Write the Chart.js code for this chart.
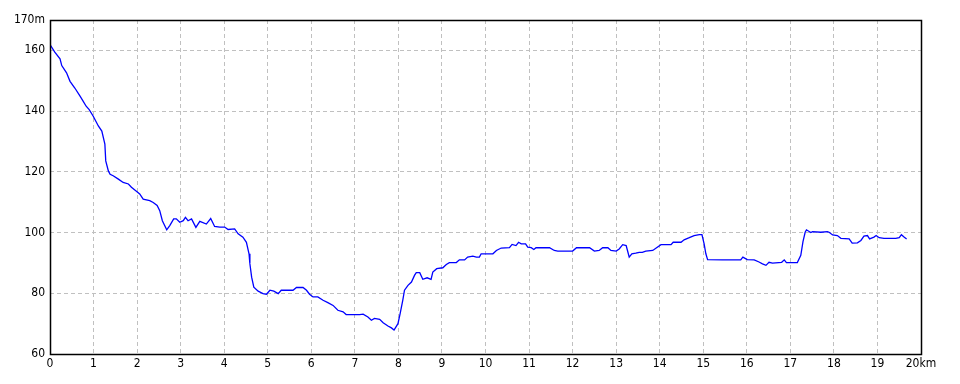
<!DOCTYPE html>
<html>
<head>
<meta charset="utf-8">
<script src="https://cdn.jsdelivr.net/npm/chart.js@4"></script>
<style>
  body { margin: 0; background: #fff; }
  #wrap { width: 960px; height: 384px; }
</style>
</head>
<body>
<div id="wrap"><canvas id="myChart" width="960" height="384"></canvas></div>
<script>
// distance along the route (km) and elevation (m)
const distKm = [
    0, 0.11, 0.23, 0.27, 0.38, 0.46, 0.57, 0.69, 0.76, 0.83, 0.9, 0.99, 1.11, 1.19, 1.26, 1.28, 1.34, 1.38, 1.45, 1.57,
    1.68, 1.8, 1.87, 1.99, 2.06, 2.14, 2.29, 2.37, 2.46, 2.52, 2.58, 2.68, 2.75, 2.84, 2.9, 2.98, 3.06, 3.11, 3.17, 3.25,
    3.35, 3.44, 3.59, 3.69, 3.78, 3.9, 4.01, 4.09, 4.24, 4.32, 4.43, 4.51, 4.57, 4.59, 4.63, 4.68, 4.78, 4.89, 4.97, 5.05,
    5.14, 5.24, 5.31, 5.58, 5.66, 5.81, 5.89, 5.96, 6.04, 6.15, 6.27, 6.38, 6.5, 6.61, 6.73, 6.8, 7.11, 7.19, 7.3, 7.38,
    7.45, 7.57, 7.65, 7.76, 7.84, 7.9, 7.99, 8.04, 8.1, 8.14, 8.22, 8.3, 8.37, 8.41, 8.49, 8.56, 8.66, 8.75, 8.79, 8.88,
    9.02, 9.1, 9.17, 9.33, 9.4, 9.52, 9.59, 9.71, 9.79, 9.86, 9.9, 10.17, 10.25, 10.36, 10.55, 10.61, 10.7, 10.76, 10.82, 10.92,
    10.97, 11.05, 11.11, 11.16, 11.47, 11.58, 11.66, 12, 12.09, 12.39, 12.5, 12.61, 12.69, 12.81, 12.88, 13, 13.07, 13.15, 13.23, 13.26,
    13.3, 13.36, 13.45, 13.53, 13.6, 13.68, 13.84, 13.92, 14.03, 14.26, 14.31, 14.49, 14.56, 14.68, 14.79, 14.91, 14.97, 15.02, 15.06, 15.1,
    15.44, 15.86, 15.91, 16.01, 16.17, 16.28, 16.36, 16.44, 16.51, 16.59, 16.8, 16.86, 16.91, 17.16, 17.24, 17.29, 17.34, 17.37, 17.47, 17.51,
    17.7, 17.85, 17.89, 17.97, 18.08, 18.16, 18.35, 18.42, 18.54, 18.62, 18.69, 18.77, 18.82, 18.92, 18.97, 19.04, 19.15, 19.42, 19.5, 19.55,
    19.61, 19.67
];
const elevM = [
    161.9, 159.4, 157.2, 155, 152.6, 149.8, 147.6, 144.9, 143.3, 141.6, 140.5, 138.4, 135.1, 133.4, 129.1, 123.6, 120.3, 119.2, 118.7, 117.6,
    116.5, 116, 114.9, 113.5, 112.7, 111, 110.5, 109.9, 108.9, 107.2, 103.9, 100.9, 102.3, 104.5, 104.5, 103.4, 103.9, 105, 103.9, 104.5,
    101.7, 103.7, 102.8, 104.6, 102, 101.8, 101.8, 101, 101.2, 99.6, 98.5, 96.8, 93, 89.7, 85.3, 82, 80.7, 79.9, 79.7, 81,
    80.7, 79.9, 81, 81, 81.9, 81.9, 81, 79.7, 78.8, 78.8, 77.7, 76.9, 76, 74.4, 73.9, 73, 73, 73.1, 72.2, 71.1,
    71.7, 71.4, 70.3, 69.2, 68.6, 67.9, 70, 73.3, 77.7, 81, 82.6, 83.7, 85.9, 86.8, 86.8, 84.6, 85.1, 84.6, 87, 88.1,
    88.4, 89.5, 90.1, 90.1, 91, 91, 91.9, 92.2, 91.9, 91.9, 93, 93, 94.1, 94.9, 95, 96.1, 95.7, 96.8, 96.3, 96.3,
    95.2, 95, 94.4, 95, 95, 94.1, 93.9, 93.9, 95, 95, 93.9, 94.1, 95, 95, 94.1, 93.9, 94.6, 96, 95.7, 94.1,
    91.9, 93, 93.2, 93.5, 93.5, 93.9, 94.1, 94.9, 96, 96, 96.8, 96.8, 97.6, 98.3, 99, 99.3, 99.3, 96.3, 93, 91.1,
    91, 91, 91.9, 91.1, 91, 90.3, 89.7, 89.2, 90.2, 89.9, 90.2, 91, 90.1, 90.1, 92.5, 97, 100.1, 100.9, 100, 100.3,
    100.1, 100.3, 100.1, 99.2, 99, 98.1, 97.9, 96.5, 96.6, 97.4, 98.8, 99, 97.9, 98.5, 99, 98.3, 98.1, 98.1, 98.3, 99.3,
    98.5, 97.9
];

// axis ticks
const yTicks = [60, 80, 100, 120, 140, 160, 170];
const xMax = 20;

const points = distKm.map((d, i) => ({ x: d, y: elevM[i] }));

// black frame round the plot area
const frame = {
    id: 'frame',
    afterDatasetsDraw(chart) {
        const a = chart.chartArea;
        const ctx = chart.ctx;
        const l = Math.round(a.left) + 0.5, t = Math.round(a.top) + 0.5;
        const r = Math.round(a.right) + 0.5, b = Math.round(a.bottom) + 0.5;
        ctx.save();
        ctx.strokeStyle = '#000';
        ctx.lineWidth = 1.5;
        ctx.strokeRect(l, t, r - l, b - t);
        ctx.restore();
    }
};

const font = { family: '"Liberation Sans Narrow", "DejaVu Sans Condensed", sans-serif', size: 12 };

new Chart(document.getElementById('myChart'), {
    type: 'line',
    data: {
        datasets: [{
            data: points,
            borderColor: '#0000ff',
            borderWidth: 1.3,
            pointRadius: 0,
            fill: false,
            tension: 0
        }]
    },
    options: {
        responsive: false,
        animation: false,
        layout: { padding: { top: 20, right: 39, left: 0, bottom: 0 } },
        plugins: { legend: { display: false }, tooltip: { enabled: false } },
        scales: {
            x: {
                type: 'linear',
                min: 0,
                max: xMax,
                afterFit: s => { s.height = 30; },
                ticks: {
                    stepSize: 1,
                    color: '#000',
                    font: font,
                    padding: 3,
                    maxRotation: 0,
                    callback: v => v === xMax ? v + 'km' : v
                },
                grid: {
                    drawTicks: false,
                    color: c => (c.tick && (c.tick.value === 0 || c.tick.value === xMax)) ? 'rgba(0,0,0,0)' : '#c0c0c0'
                },
                border: { display: false, dash: [4, 3] }
            },
            y: {
                min: 60,
                max: 170,
                afterFit: s => { s.width = 50; },
                afterBuildTicks: s => { s.ticks = yTicks.map(v => ({ value: v })); },
                ticks: {
                    color: '#000',
                    font: font,
                    padding: 5,
                    callback: v => v === 170 ? v + 'm' : v
                },
                grid: {
                    drawTicks: false,
                    color: c => (c.tick && (c.tick.value === 60 || c.tick.value === 170)) ? 'rgba(0,0,0,0)' : '#c0c0c0'
                },
                border: { display: false, dash: [4, 3] }
            }
        }
    },
    plugins: [frame]
});
</script>
</body>
</html>
